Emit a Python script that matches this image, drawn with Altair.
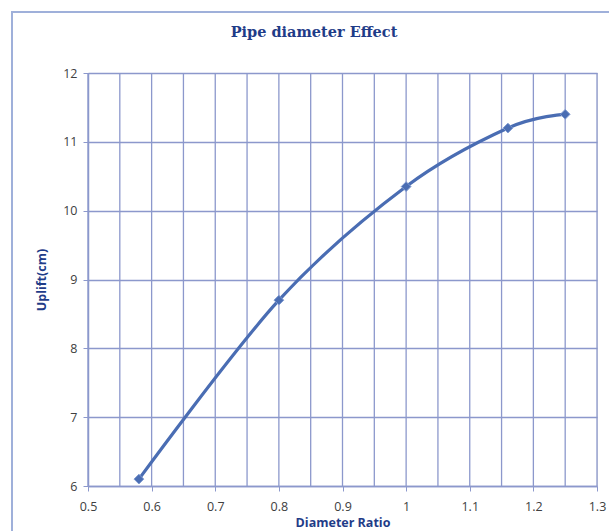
import altair as alt
import pandas as pd

# data
diameter_ratio = [0.58, 0.80, 1.00, 1.16, 1.25]
uplift_cm = [6.1, 8.7, 10.35, 11.2, 11.4]
x_label_values = [0.5, 0.6, 0.7, 0.8, 0.9, 1.0, 1.1, 1.2, 1.3]
x_grid_values = [0.5, 0.55, 0.6, 0.65, 0.7, 0.75, 0.8, 0.85, 0.9, 0.95,
                 1.0, 1.05, 1.1, 1.15, 1.2, 1.25, 1.3]
y_ticks = [6, 7, 8, 9, 10, 11, 12]
chart_title = ["Pipe diameter Effect"]

df = pd.DataFrame({"ratio": diameter_ratio, "uplift": uplift_cm})
grid_df = pd.DataFrame({"g": x_grid_values})

GRID = "#8C98CC"
LINE = "#4A6DB3"
TEXT = "#404040"
TITLE = "#1F3C88"
LABEL_FONT = "Open Sans"

x_enc = alt.X(
    "ratio:Q",
    scale=alt.Scale(domain=[0.5, 1.3], nice=False, zero=False),
    axis=alt.Axis(
        values=x_label_values,
        format="~g",
        title="Diameter Ratio",
        grid=False,
        labelFlush=False,
        domainColor=GRID,
        domainWidth=1.5,
        tickColor=GRID,
        tickSize=5,
        labelPadding=9,
        labelFontSize=12.5,
        labelColor=TEXT,
        labelFont=LABEL_FONT,
        titleFont=LABEL_FONT,
        titleFontSize=12.5,
        titleFontWeight="bold",
        titleColor=TITLE,
        titlePadding=4,
    ),
)
y_enc = alt.Y(
    "uplift:Q",
    scale=alt.Scale(domain=[6, 12], nice=False, zero=False),
    axis=alt.Axis(
        values=y_ticks,
        format="d",
        title="Uplift(cm)",
        grid=True,
        gridColor=GRID,
        gridWidth=1.3,
        domainColor=GRID,
        domainWidth=1.5,
        tickColor=GRID,
        tickSize=5,
        labelPadding=6,
        labelFlush=False,
        labelFontSize=12.5,
        labelColor=TEXT,
        labelFont=LABEL_FONT,
        titleFont=LABEL_FONT,
        titleFontSize=12.5,
        titleFontWeight="bold",
        titleColor=TITLE,
        titlePadding=14,
    ),
)

vgrid = alt.Chart(grid_df).mark_rule(color=GRID, strokeWidth=1.3).encode(
    x=alt.X("g:Q", scale=alt.Scale(domain=[0.5, 1.3], nice=False, zero=False))
)

line = alt.Chart(df).mark_line(
    interpolate="cardinal", color=LINE, strokeWidth=3.2
).encode(x=x_enc, y=y_enc)

points = alt.Chart(df).mark_point(
    shape="diamond", filled=True, size=95, color=LINE,
    stroke="#7F9AD0", strokeWidth=1, opacity=1
).encode(x="ratio:Q", y="uplift:Q")

one = pd.DataFrame({"t": chart_title})

frame = alt.Chart(one).mark_rect(
    fill=None, stroke="#9FB0DA", strokeWidth=2
).encode(
    x=alt.value(-76), x2=alt.value(530),
    y=alt.value(-61), y2=alt.value(470),
)

title = alt.Chart(one).mark_text(
    font="DejaVu Serif", fontSize=14.5, fontWeight="bold", color=TITLE,
    align="center", baseline="middle"
).encode(text="t:N", x=alt.value(226), y=alt.value(-40))

chart = alt.layer(frame, vgrid, line, points, title).properties(
    width=509,
    height=413,
    autosize=alt.AutoSizeParams(type="none"),
    padding={"left": 88, "top": 73, "right": 12, "bottom": 45},
).configure_view(stroke=GRID, strokeWidth=1.5).configure(background="white")

chart.save("out.html", embed_options={"renderer": "svg", "actions": False})
